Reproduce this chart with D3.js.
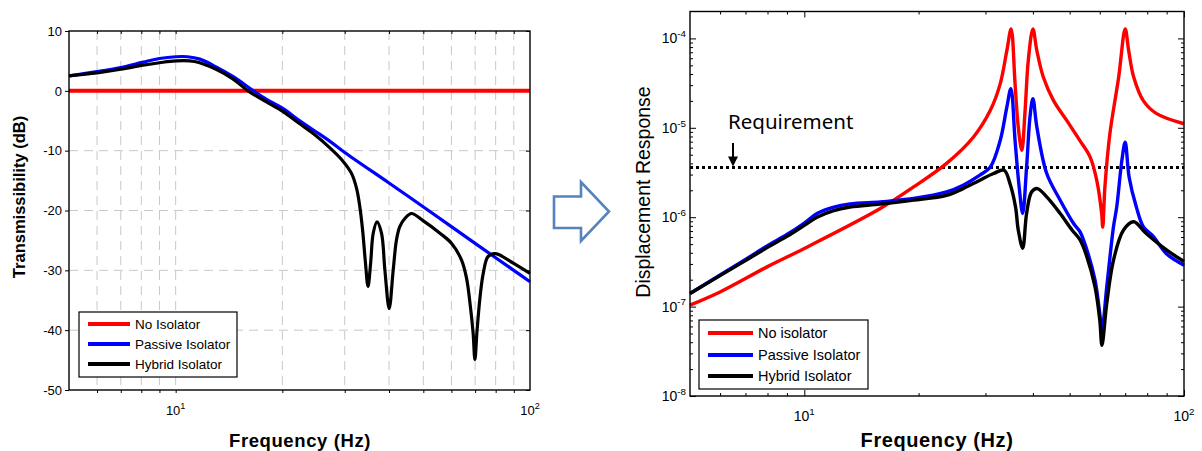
<!DOCTYPE html>
<html>
<head>
<meta charset="utf-8">
<script src="https://cdn.jsdelivr.net/npm/d3@7"></script>
<style>
body { margin: 0; background: #fff; }
svg { display: block; font-family: "Liberation Sans", Arial, sans-serif; }
</style>
</head>
<body>
<svg id="fig" width="1202" height="451"></svg>
<script>
// ---- data ----
var freqGrid = [6, 7, 8, 9, 10, 20, 30, 40, 50, 60, 70, 80, 90];
var freqMinor = [6, 7, 8, 9, 20, 30, 40, 50, 60, 70, 80, 90];
var decades = [10, 100];
var dbTicks = [10, 0, -10, -20, -30, -40, -50];
var dbGrid = [0, -10, -20, -30, -40];
var dispExp = [-8, -7, -6, -5, -4];
var requirement = 3.6e-6;

var namesLeft = ["No Isolator", "Passive Isolator", "Hybrid Isolator"];
var namesRight = ["No isolator", "Passive Isolator", "Hybrid Isolator"];
var colors = ["#ff0000", "#0000ff", "#000000"];

// transmissibility in dB, [Hz, dB]
var noIsoTrans = [[5, 0], [100, 0]];
var passiveTrans = [[5, 2.5], [6, 3.2], [7, 3.9], [8.1, 4.8], [9, 5.4], [10, 5.7], [10.8, 5.7],
  [11.7, 5.3], [13, 4.0], [14.5, 2.4], [16.5, 0.1], [18, -1.4], [20, -2.9], [22.4, -5.0],
  [24.4, -6.5], [27.2, -8.4], [30, -10.3], [40, -15.4], [48.9, -19.0], [60, -22.7], [70, -25.5],
  [80, -27.9], [90, -30.0], [100, -31.9]];
var hybridTrans = [[5, 2.5], [6, 3.0], [7, 3.6], [8.1, 4.3], [9, 4.7], [10, 5.0], [11.3, 4.9],
  [13, 3.6], [14.5, 2.0], [16, 0], [18, -1.8], [20, -3.4], [22.4, -5.5], [24.4, -7.1],
  [27.2, -9.5], [29.7, -11.8], [31.35, -13.8], [32.4, -16.3], [33.1, -19.4], [33.7, -23.3],
  [34.3, -28.5], [34.9, -32.7], [35.5, -28.8], [36.1, -23.8], [37.0, -21.9], [38.1, -23.8],
  [38.95, -30.0], [40.05, -36.4], [41.1, -30.0], [42.0, -24.9], [42.9, -22.7], [44.4, -21.3],
  [46.3, -20.5], [49.9, -21.7], [55.7, -23.8], [60.1, -25.5], [64.1, -28.3], [66.2, -31.3],
  [67.9, -36.1], [69.1, -40.5], [69.9, -44.9], [70.9, -40.0], [72.3, -34.4], [73.8, -30.5],
  [76.1, -27.7], [79.6, -27.2], [81.9, -27.4], [89.7, -28.8], [100, -30.5]];

// displacement response, [Hz, value]
var noIsoDisp = [[5, 1.04e-7], [6, 1.46e-7], [8, 2.8e-7], [10, 4.47e-7], [15.85, 1.25e-6],
  [19.4, 2.18e-6], [23.7, 4.0e-6], [27.9, 7.9e-6], [30.9, 1.57e-5], [32.8, 3.1e-5],
  [34.15, 7.3e-5], [35.05, 1.28e-4], [35.9, 3.1e-5], [36.6, 1.02e-5], [37.4, 5.6e-6],
  [38.15, 1.57e-5], [38.9, 5.7e-5], [40.0, 1.28e-4], [40.97, 7.3e-5], [42.6, 3.7e-5],
  [45.3, 2.03e-5], [49.1, 1.21e-5], [53.2, 7.2e-6], [56.6, 4.7e-6], [58.9, 2.6e-6],
  [60.7, 1.1e-6], [61.1, 7.7e-7], [61.9, 2.18e-6], [63.8, 8.6e-6], [67.3, 3.7e-5],
  [70.0, 1.28e-4], [71.5, 7.3e-5], [73.7, 3.7e-5], [78.2, 2.0e-5], [84.7, 1.44e-5],
  [100, 1.11e-5]];
var passiveDisp = [[5, 1.40e-7], [6, 2.26e-7], [7, 3.37e-7], [8, 4.8e-7], [9, 6.4e-7],
  [10, 8.6e-7], [10.8, 1.1e-6], [11.9, 1.29e-6], [13.2, 1.41e-6], [15.85, 1.48e-6],
  [17.9, 1.56e-6], [19.4, 1.62e-6], [23.7, 1.92e-6], [26.2, 2.28e-6], [29.0, 2.95e-6],
  [30.9, 3.65e-6], [32.8, 7.2e-6], [34.15, 1.7e-5], [35.0, 2.74e-5], [35.9, 7.2e-6],
  [36.8, 2.18e-6], [37.6, 1.1e-6], [38.5, 3.65e-6], [39.3, 1.32e-5], [40.0, 2.12e-5],
  [40.97, 1.02e-5], [43.5, 3.08e-6], [47.2, 1.55e-6], [51.2, 8.5e-7], [53.2, 6.9e-7],
  [55.5, 4.3e-7], [58.3, 1.98e-7], [60.0, 8.4e-8], [60.8, 5.5e-8], [62.6, 1.66e-7],
  [65.2, 7.8e-7], [66.5, 1.30e-6], [68.6, 4.3e-6], [70.0, 6.9e-6], [71.7, 2.8e-6],
  [74.9, 1.30e-6], [78.2, 7.8e-7], [83.0, 6.1e-7], [89.9, 3.9e-7], [100, 2.9e-7]];
var hybridDisp = [[5, 1.40e-7], [6, 2.22e-7], [7, 3.27e-7], [8, 4.6e-7], [9, 6.1e-7],
  [10, 8.1e-7], [10.8, 1.0e-6], [11.9, 1.18e-6], [13.2, 1.30e-6], [15.85, 1.40e-6],
  [19.4, 1.55e-6], [23.7, 1.76e-6], [26.2, 2.09e-6], [29.0, 2.59e-6], [31.5, 3.08e-6],
  [33.6, 3.35e-6], [34.8, 2.38e-6], [36.0, 1.30e-6], [36.6, 7.2e-7], [37.6, 4.5e-7],
  [38.5, 1.10e-6], [39.7, 1.92e-6], [41.1, 2.09e-6], [43.5, 1.69e-6], [47.2, 1.10e-6],
  [50.7, 7.2e-7], [53.2, 5.6e-7], [55.5, 3.6e-7], [58.3, 1.66e-7], [60.0, 7.1e-8],
  [60.8, 3.7e-8], [62.6, 1.09e-7], [65.2, 3.3e-7], [69.3, 7.2e-7], [73.7, 8.9e-7],
  [79.4, 6.6e-7], [89.9, 4.3e-7], [100, 3.2e-7]];

var svg = d3.select("#fig");

function curve(xs, ys) {
  return d3.line()
    .x(function(d) { return xs(d[0]); })
    .y(function(d) { return ys(d[1]); })
    .curve(d3.curveCatmullRom.alpha(0.5));
}

// "10" with a raised exponent
function powLabel(g, x, y, sup, size, anchor) {
  var t = g.append("text").attr("x", x).attr("y", y)
    .attr("font-size", size).attr("text-anchor", anchor).attr("fill", "#000");
  t.append("tspan").text("10");
  t.append("tspan").attr("dy", -size * 0.45).attr("font-size", size * 0.7).text(sup);
}

function tidy(sel) {
  sel.select(".domain").remove();
  sel.selectAll("line").attr("stroke", "#000").attr("stroke-width", 1);
  sel.attr("font-family", null).attr("font-size", null);
}

function legend(g, box, lx1, lx2, rows, tx, size, names) {
  g.append("rect").attr("x", box[0]).attr("y", box[1]).attr("width", box[2]).attr("height", box[3])
    .attr("fill", "#fff").attr("stroke", "#000").attr("stroke-width", 1.2);
  names.forEach(function(n, i) {
    g.append("line").attr("x1", lx1).attr("x2", lx2).attr("y1", rows[i]).attr("y2", rows[i])
      .attr("stroke", colors[i]).attr("stroke-width", 4);
    g.append("text").attr("x", tx).attr("y", rows[i] + size * 0.37).attr("font-size", size).text(n);
  });
}

// ---- left: transmissibility ----
var L = { x0: 69, x1: 530, y0: 31, y1: 390 };
var xL = d3.scaleLog().domain([5, 100]).range([L.x0, L.x1]);
var yL = d3.scaleLinear().domain([-50, 10]).range([L.y1, L.y0]);
var gL = svg.append("g");

gL.selectAll(".vg").data(freqGrid).enter().append("line")
  .attr("x1", function(d) { return xL(d); }).attr("x2", function(d) { return xL(d); })
  .attr("y1", L.y0).attr("y2", L.y1)
  .attr("stroke", "#c8c8c8").attr("stroke-dasharray", "9,6");
gL.selectAll(".hg").data(dbGrid).enter().append("line")
  .attr("x1", L.x0).attr("x2", L.x1)
  .attr("y1", function(d) { return yL(d); }).attr("y2", function(d) { return yL(d); })
  .attr("stroke", "#c8c8c8").attr("stroke-dasharray", "9,6");

gL.append("g").attr("transform", "translate(" + L.x0 + ",0)")
  .call(d3.axisLeft(yL).tickValues(dbTicks).tickSize(4).tickPadding(3)
    .tickFormat(function(d) { return String(d); }))
  .call(tidy).selectAll("text").attr("font-size", 13).attr("fill", "#000");
gL.append("g").attr("transform", "translate(" + L.x1 + ",0)")
  .call(d3.axisRight(yL).tickValues(dbTicks).tickSize(-4).tickFormat("")).call(tidy);
gL.append("g").attr("transform", "translate(0," + L.y0 + ")")
  .call(d3.axisTop(xL).tickValues(freqGrid).tickSize(-3).tickFormat("")).call(tidy);
gL.append("g").attr("transform", "translate(0," + L.y1 + ")")
  .call(d3.axisBottom(xL).tickValues(freqGrid).tickSize(3).tickFormat("")).call(tidy);

decades.forEach(function(d, i) {
  powLabel(gL, xL(d), L.y1 + 25, String(i + 1), 13, "middle");
});

[noIsoTrans, passiveTrans, hybridTrans].forEach(function(s, i) {
  gL.append("path").attr("d", curve(xL, yL)(s)).attr("fill", "none")
    .attr("stroke", colors[i]).attr("stroke-width", i == 0 ? 4 : 3.2)
    .attr("stroke-linejoin", "round");
});

gL.append("rect").attr("x", L.x0).attr("y", L.y0).attr("width", L.x1 - L.x0).attr("height", L.y1 - L.y0)
  .attr("fill", "none").attr("stroke", "#000").attr("stroke-width", 1.4);

legend(gL, [79, 312, 158, 65], 88, 130, [324, 344, 364], 135, 13.5, namesLeft);

gL.append("text").attr("transform", "translate(24.5,197) rotate(-90)")
  .attr("text-anchor", "middle").attr("font-size", 16.5).attr("font-weight", "bold")
  .text("Transmissibility (dB)");
gL.append("text").attr("x", 300).attr("y", 447).attr("text-anchor", "middle")
  .attr("font-size", 18.5).attr("font-weight", "bold").attr("letter-spacing", 0.6)
  .text("Frequency (Hz)");

// ---- hollow arrow between panels ----
svg.append("path")
  .attr("d", "M554,196.5 L581,196.5 L581,182 L609,211.5 L581,241 L581,228 L554,228 Z")
  .attr("fill", "#fff").attr("stroke", "#5683c0").attr("stroke-width", 2.6)
  .attr("stroke-linejoin", "miter");

// ---- right: displacement response ----
var R = { x0: 690, x1: 1184, y0: 11.5, y1: 396 };
var xR = d3.scaleLog().domain([5, 100]).range([R.x0, R.x1]);
var yR = d3.scaleLog().domain([1e-8, 2e-4]).range([R.y1, R.y0]);
var gR = svg.append("g");

var dispMajor = dispExp.map(function(e) { return Math.pow(10, e); });
var dispMinor = [];
dispExp.slice(0, 4).forEach(function(e) {
  for (var m = 2; m <= 9; m++) dispMinor.push(m * Math.pow(10, e));
});

gR.append("g").attr("transform", "translate(" + R.x0 + ",0)")
  .call(d3.axisLeft(yR).tickValues(dispMajor).tickSize(-6).tickFormat("")).call(tidy);
gR.append("g").attr("transform", "translate(" + R.x0 + ",0)")
  .call(d3.axisLeft(yR).tickValues(dispMinor).tickSize(-3).tickFormat("")).call(tidy);
gR.append("g").attr("transform", "translate(" + R.x1 + ",0)")
  .call(d3.axisRight(yR).tickValues(dispMajor).tickSize(-6).tickFormat("")).call(tidy);
gR.append("g").attr("transform", "translate(" + R.x1 + ",0)")
  .call(d3.axisRight(yR).tickValues(dispMinor).tickSize(-3).tickFormat("")).call(tidy);
gR.append("g").attr("transform", "translate(0," + R.y1 + ")")
  .call(d3.axisBottom(xR).tickValues(decades).tickSize(-6).tickFormat("")).call(tidy);
gR.append("g").attr("transform", "translate(0," + R.y1 + ")")
  .call(d3.axisBottom(xR).tickValues(freqMinor).tickSize(-3).tickFormat("")).call(tidy);
gR.append("g").attr("transform", "translate(0," + R.y0 + ")")
  .call(d3.axisTop(xR).tickValues(decades).tickSize(-6).tickFormat("")).call(tidy);
gR.append("g").attr("transform", "translate(0," + R.y0 + ")")
  .call(d3.axisTop(xR).tickValues(freqMinor).tickSize(-3).tickFormat("")).call(tidy);

dispExp.forEach(function(e) {
  powLabel(gR, R.x0 - 4, yR(Math.pow(10, e)) + 5, String(e), 14, "end");
});
decades.forEach(function(d, i) {
  powLabel(gR, xR(d), R.y1 + 25, String(i + 1), 14, "middle");
});

gR.append("line").attr("x1", R.x0).attr("x2", R.x1)
  .attr("y1", yR(requirement)).attr("y2", yR(requirement))
  .attr("stroke", "#000").attr("stroke-width", 3).attr("stroke-dasharray", "3,3");

[noIsoDisp, passiveDisp, hybridDisp].forEach(function(s, i) {
  gR.append("path").attr("d", curve(xR, yR)(s)).attr("fill", "none")
    .attr("stroke", colors[i]).attr("stroke-width", 3.4)
    .attr("stroke-linejoin", "round");
});

gR.append("rect").attr("x", R.x0).attr("y", R.y0).attr("width", R.x1 - R.x0).attr("height", R.y1 - R.y0)
  .attr("fill", "none").attr("stroke", "#000").attr("stroke-width", 1.4);

// requirement note with arrow
var ay = yR(requirement);
gR.append("text").attr("x", 728).attr("y", 129)
  .attr("font-family", "'Noto Sans', 'Open Sans', sans-serif").attr("font-size", 20.5)
  .text("Requirement");
gR.append("line").attr("x1", 733).attr("x2", 733).attr("y1", 143).attr("y2", ay - 9)
  .attr("stroke", "#000").attr("stroke-width", 2);
gR.append("path")
  .attr("d", "M728," + (ay - 11) + " L738," + (ay - 11) + " L733," + (ay - 1) + " Z")
  .attr("fill", "#000");

legend(gR, [699, 320, 169, 69], 708, 753, [333, 355, 376], 758, 14.5, namesRight);

gR.append("text").attr("transform", "translate(650,192) rotate(-90)")
  .attr("text-anchor", "middle").attr("font-size", 19.5)
  .text("Displacement Response");
gR.append("text").attr("x", 937).attr("y", 447).attr("text-anchor", "middle")
  .attr("font-size", 20).attr("font-weight", "bold").attr("letter-spacing", 0.6)
  .text("Frequency (Hz)");
</script>
</body>
</html>
